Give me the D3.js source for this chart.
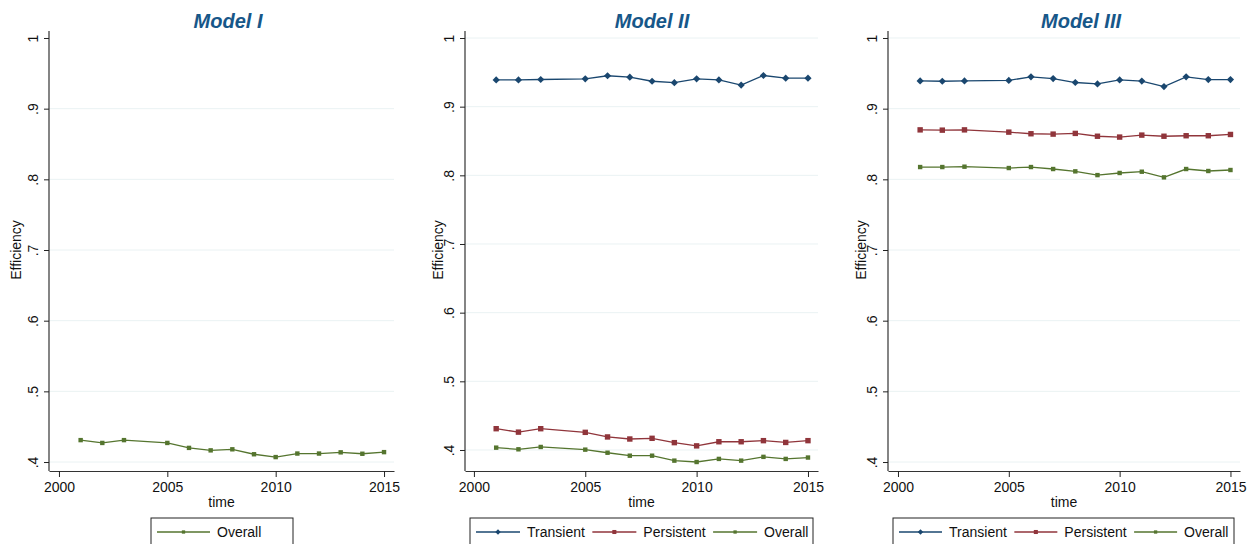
<!DOCTYPE html>
<html>
<head>
<meta charset="utf-8">
<script src="https://cdn.jsdelivr.net/npm/d3@7"></script>
<style>
  body { margin: 0; background: #fff; }
  svg { display: block; font-family: "Liberation Sans", Arial, Helvetica, sans-serif; }
</style>
</head>
<body>
<div id="chart"></div>
<script>
var years = [2001, 2002, 2003, 2005, 2006, 2007, 2008, 2009, 2010, 2011, 2012, 2013, 2014, 2015];
var yTicks = [0.4, 0.5, 0.6, 0.7, 0.8, 0.9, 1];
var xTicks = [2000, 2005, 2010, 2015];
var titles = ["Model I", "Model II", "Model III"];

var m1Overall    = [0.431, 0.427, 0.431, 0.427, 0.420, 0.4165, 0.418, 0.411, 0.407, 0.412, 0.412, 0.4137, 0.4117, 0.414];
var m2Transient  = [0.939, 0.939, 0.9396, 0.9406, 0.945, 0.943, 0.937, 0.935, 0.9406, 0.939, 0.9314, 0.9454, 0.9415, 0.9415];
var m2Persistent = [0.431, 0.426, 0.431, 0.4257, 0.419, 0.416, 0.417, 0.4107, 0.406, 0.412, 0.412, 0.4136, 0.411, 0.4136];
var m2Overall    = [0.4034, 0.401, 0.4044, 0.4005, 0.396, 0.3917, 0.3917, 0.3845, 0.3825, 0.387, 0.3845, 0.390, 0.387, 0.389];
var m3Transient  = [0.9393, 0.9388, 0.9393, 0.940, 0.945, 0.9426, 0.937, 0.935, 0.9407, 0.939, 0.9313, 0.945, 0.9412, 0.9412];
var m3Persistent = [0.870, 0.8696, 0.870, 0.8668, 0.8645, 0.864, 0.865, 0.861, 0.8598, 0.8626, 0.861, 0.8617, 0.8617, 0.8635];
var m3Overall    = [0.8174, 0.8174, 0.8179, 0.816, 0.8174, 0.8146, 0.8113, 0.806, 0.809, 0.8108, 0.8028, 0.8146, 0.8118, 0.8132];

var colors = {Transient: "#1a476f", Persistent: "#90353b", Overall: "#55752f"};
var markers = {Transient: "diamond", Persistent: "square", Overall: "small"};

var W = 1253, H = 544;

// panel layout (pixels)
var panels = [
  {left: 49, right: 394, xdom: [1999.54, 2015.46], ydom: [0.3873, 1.0099], ylabX: 21, titleX: 228,
   legend: [151, 293], lineLen: 53, skipTopGrid: true,
   series: [{name: "Overall", values: m1Overall}]},
  {left: 465, right: 818, xdom: [1999.6, 2015.45], ydom: [0.3694, 1.0102], ylabX: 443, titleX: 652,
   legend: [470, 813], lineLen: 44, skipTopGrid: false,
   series: [{name: "Transient", values: m2Transient}, {name: "Persistent", values: m2Persistent}, {name: "Overall", values: m2Overall}]},
  {left: 888, right: 1240, xdom: [1999.55, 2015.43], ydom: [0.3873, 1.0099], ylabX: 866, titleX: 1081,
   legend: [893, 1234], lineLen: 43, skipTopGrid: false,
   series: [{name: "Transient", values: m3Transient}, {name: "Persistent", values: m3Persistent}, {name: "Overall", values: m3Overall}]}
];
var plotTop = 31, plotBottom = 471;

var svg = d3.select("#chart").append("svg")
  .attr("width", W)
  .attr("height", H);

var defs = svg.append("defs");

function drawMarker(g, type, x, y, color, s) {
  if (type == "diamond") {
    var r = 3.6 * s;
    g.append("path")
      .attr("d", "M" + x + "," + (y - r) + "L" + (x + r) + "," + y + "L" + x + "," + (y + r) + "L" + (x - r) + "," + y + "Z")
      .attr("fill", color);
  } else {
    var h = (type == "square" ? 2.7 : 2.2) * s;
    g.append("rect")
      .attr("x", x - h).attr("y", y - h)
      .attr("width", 2 * h).attr("height", 2 * h)
      .attr("fill", color);
  }
}

panels.forEach(function(p, i) {
  var x = d3.scaleLinear().domain(p.xdom).range([p.left, p.right]);
  var y = d3.scaleLinear().domain(p.ydom).range([plotBottom, plotTop]);
  var g = svg.append("g");

  // gridlines
  g.selectAll(".grid")
    .data(yTicks.filter(function(t) { return !(p.skipTopGrid && t == 1); }))
    .enter().append("line")
      .attr("x1", p.left).attr("x2", p.right)
      .attr("y1", function(d) { return y(d); })
      .attr("y2", function(d) { return y(d); })
      .attr("stroke", "#eaf2f3")
      .attr("stroke-width", 1);

  // y axis
  var yAxis = g.append("g")
    .attr("transform", "translate(" + p.left + ",0)")
    .call(d3.axisLeft(y).tickValues(yTicks).tickSize(5).tickSizeOuter(0)
      .tickFormat(function(d) { return d == 1 ? "1" : d3.format(".1f")(d).replace(/^0/, ""); }));
  yAxis.select(".domain").attr("stroke", "#333").attr("stroke-width", 1.2).attr("d", "M0," + plotTop + "V" + plotBottom);
  yAxis.selectAll(".tick line").attr("stroke", "#222");
  yAxis.selectAll(".tick text")
    .attr("x", null).attr("dy", null)
    .attr("transform", "translate(-11,0) rotate(-90)")
    .attr("text-anchor", "middle")
    .style("font-size", "14px")
    .attr("fill", "#111");

  // x axis
  var xAxis = g.append("g")
    .attr("transform", "translate(0," + plotBottom + ")")
    .call(d3.axisBottom(x).tickValues(xTicks).tickSize(6).tickSizeOuter(0).tickFormat(d3.format("d")));
  xAxis.select(".domain").attr("stroke", "#333").attr("stroke-width", 1.2);
  xAxis.selectAll(".tick line").attr("stroke", "#222");
  xAxis.selectAll(".tick text")
    .attr("y", 21).attr("dy", null)
    .style("font-size", "14px")
    .attr("fill", "#111");

  // axis titles
  g.append("text")
    .attr("x", (p.left + p.right) / 2)
    .attr("y", 507)
    .attr("text-anchor", "middle")
    .style("font-size", "14px")
    .attr("fill", "#111")
    .text("time");
  g.append("text")
    .attr("transform", "translate(" + p.ylabX + ",250) rotate(-90)")
    .attr("text-anchor", "middle")
    .style("font-size", "14px")
    .attr("fill", "#111")
    .text("Efficiency");

  // panel title
  g.append("text")
    .attr("x", p.titleX)
    .attr("y", 28)
    .attr("text-anchor", "middle")
    .style("font-size", "20px")
    .style("font-weight", "bold")
    .style("font-style", "italic")
    .attr("fill", "#175789")
    .text(titles[i]);

  // series
  p.series.forEach(function(s) {
    var pts = years.map(function(yr, k) { return [yr, s.values[k]]; });
    var line = d3.line().x(function(d) { return x(d[0]); }).y(function(d) { return y(d[1]); });
    g.append("path")
      .datum(pts)
      .attr("d", line)
      .attr("fill", "none")
      .attr("stroke", colors[s.name])
      .attr("stroke-width", 1.3);
    pts.forEach(function(d) {
      drawMarker(g, markers[s.name], x(d[0]), y(d[1]), colors[s.name], 1);
    });
  });

  // legend box (clipped at the bottom of the picture and at its right edge)
  var lx0 = p.legend[0], lx1 = p.legend[1], ly = 518;
  defs.append("clipPath").attr("id", "lclip" + i)
    .append("rect").attr("x", lx0).attr("y", ly).attr("width", lx1 - lx0).attr("height", 40);
  var lg = g.append("g").attr("clip-path", "url(#lclip" + i + ")");
  var cx = lx0 + 6, cy = 532;
  p.series.forEach(function(s) {
    lg.append("line")
      .attr("x1", cx).attr("x2", cx + p.lineLen)
      .attr("y1", cy).attr("y2", cy)
      .attr("stroke", colors[s.name])
      .attr("stroke-width", 1.3);
    drawMarker(lg, markers[s.name], cx + p.lineLen / 2, cy, colors[s.name], 0.75);
    var t = lg.append("text")
      .attr("x", cx + p.lineLen + 7)
      .attr("y", cy + 5)
      .style("font-size", "14px")
      .attr("fill", "#111")
      .text(s.name);
    cx = cx + p.lineLen + 7 + t.node().getComputedTextLength() + 7.5;
  });
  g.append("rect")
    .attr("x", lx0).attr("y", ly)
    .attr("width", lx1 - lx0).attr("height", 40)
    .attr("fill", "none")
    .attr("stroke", "#222")
    .attr("stroke-width", 1);
});
</script>
</body>
</html>
